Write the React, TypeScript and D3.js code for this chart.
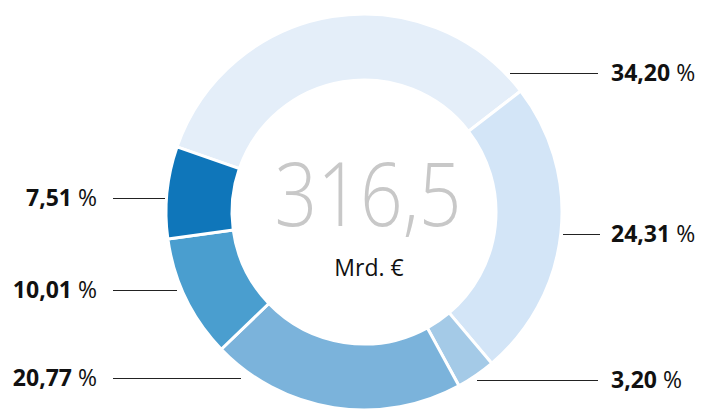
import React from "react";
import * as d3 from "d3";

const categories = ["A", "B", "C", "D", "E", "F"];
const shares = [34.2, 24.31, 3.2, 20.77, 10.01, 7.51];
const labels = ["34,20", "24,31", "3,20", "20,77", "10,01", "7,51"];
const colors = ["#e4eef9", "#d3e5f7", "#a4cae7", "#7bb3db", "#4a9ecf", "#0f76ba"];
const totalLabel = "316,5";
const unitLabel = "Mrd. €";

// label anchors: [side, y, lineStartX, lineEndX]
const labelPos: [string, number, number, number][] = [
  ["r", 73, 510, 598],
  ["r", 234, 563, 600],
  ["r", 380, 477, 598],
  ["l", 378, 113, 241],
  ["l", 290, 113, 177],
  ["l", 198, 113, 165],
];

export default function App() {
  const W = 701, H = 410;
  const cx = 364, cy = 212, R = 198, r = 132;
  const start = (-70.8 * Math.PI) / 180;
  const pie = d3
    .pie<number>()
    .sort(null)
    .value((d) => d)
    .startAngle(start)
    .endAngle(start + 2 * Math.PI);
  const arcs = pie(shares);
  const arc = d3.arc<d3.PieArcDatum<number>>().innerRadius(r).outerRadius(R);
  const font = "'Open Sans', 'Noto Sans', sans-serif";
  return (
    <svg width={W} height={H} style={{ position: "absolute", left: 0, top: 0 }}>
      <rect width={W} height={H} fill="#fff" />
      <g transform={`translate(${cx},${cy})`}>
        {arcs.map((a, i) => (
          <path key={categories[i]} d={arc(a) || ""} fill={colors[i]} stroke="#fff" strokeWidth={3} />
        ))}
      </g>
      {labelPos.map(([side, y, x1, x2], i) => (
        <g key={i}>
          <line x1={x1} x2={x2} y1={y + 0.5} y2={y + 0.5} stroke="#222" strokeWidth={1} />
          <text
            x={side === "r" ? 611 : 97}
            y={y + 8}
            textAnchor={side === "r" ? "start" : "end"}
            fontFamily={font}
            fontSize={23}
            fill="#111"
          >
            <tspan fontWeight={700}>{labels[i]}</tspan>
            <tspan fontWeight={400}> %</tspan>
          </text>
        </g>
      ))}
      <text
        x={368}
        y={226}
        textAnchor="middle"
        fontFamily={font}
        fontWeight={300}
        fontSize={88}
        fill="#c8c8c8"
        textLength={187}
        lengthAdjust="spacingAndGlyphs"
      >
        {totalLabel}
      </text>
      <text x={369} y={276} textAnchor="middle" fontFamily={font} fontSize={23} fill="#111">
        {unitLabel}
      </text>
    </svg>
  );
}
